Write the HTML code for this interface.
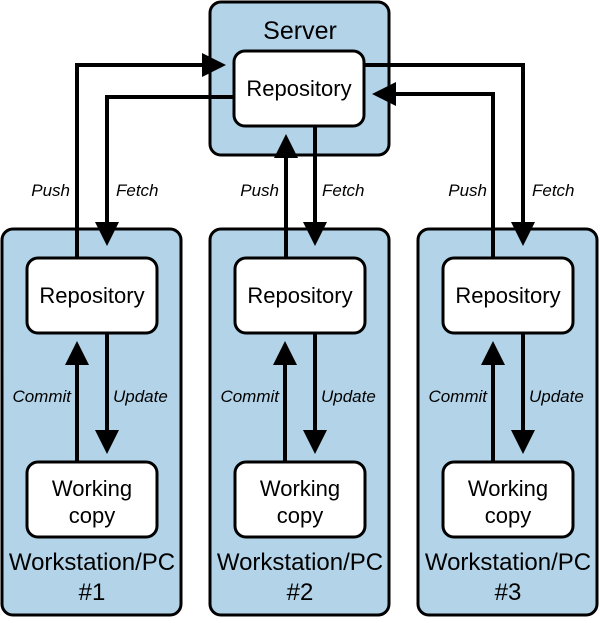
<!DOCTYPE html>
<html><head><style>body{margin:0;background:#fff}</style></head><body>
<svg width="600" height="618" viewBox="0 0 600 618" xmlns="http://www.w3.org/2000/svg" font-family="Liberation Sans, sans-serif">
<defs>
<marker id="a" markerWidth="6" markerHeight="6" refX="5" refY="3" orient="auto" markerUnits="strokeWidth">
<path d="M0,0 L6,3 L0,6 Z" fill="#000"/></marker>
</defs>
<g fill="#b3d4e8" stroke="#000" stroke-width="3">
<rect x="210" y="2" width="179" height="153" rx="11"/>
<rect x="2" y="229" width="179" height="386" rx="11"/>
<rect x="210" y="229" width="179" height="386" rx="11"/>
<rect x="418" y="229" width="179" height="386" rx="11"/>
</g>
<g fill="none" stroke="#000" stroke-width="4">
<path d="M77,258 V65 H222" marker-end="url(#a)"/>
<path d="M234,97 H107 V242" marker-end="url(#a)"/>
<path d="M364,65 H523 V242" marker-end="url(#a)"/>
<path d="M493,258 V94 H376" marker-end="url(#a)"/>
<path d="M286,258 V138" marker-end="url(#a)"/>
<path d="M315,126 V242" marker-end="url(#a)"/>
<path d="M77,462 V345" marker-end="url(#a)"/>
<path d="M107,333 V450" marker-end="url(#a)"/>
<path d="M285,462 V345" marker-end="url(#a)"/>
<path d="M315,333 V450" marker-end="url(#a)"/>
<path d="M493,462 V345" marker-end="url(#a)"/>
<path d="M523,333 V450" marker-end="url(#a)"/>
</g>
<g fill="#fff" stroke="#000" stroke-width="3">
<rect x="234" y="51" width="130" height="75" rx="11"/>
<rect x="27" y="258" width="130" height="75" rx="11"/>
<rect x="235" y="258" width="130" height="75" rx="11"/>
<rect x="443" y="258" width="130" height="75" rx="11"/>
<rect x="27" y="462" width="130" height="75" rx="11"/>
<rect x="235" y="462" width="130" height="75" rx="11"/>
<rect x="443" y="462" width="130" height="75" rx="11"/>
</g>
<g font-size="22" text-anchor="middle" fill="#000">
<text x="300" y="39" font-size="25">Server</text>
<text x="299" y="96">Repository</text>
<text x="92" y="303">Repository</text>
<text x="300" y="303">Repository</text>
<text x="508" y="303">Repository</text>
<text x="92" y="496">Working</text><text x="92" y="523">copy</text>
<text x="300" y="496">Working</text><text x="300" y="523">copy</text>
<text x="508" y="496">Working</text><text x="508" y="523">copy</text>
<g font-size="24">
<text x="92" y="570">Workstation/PC</text><text x="92" y="600">#1</text>
<text x="300" y="570">Workstation/PC</text><text x="300" y="600">#2</text>
<text x="508" y="570">Workstation/PC</text><text x="508" y="600">#3</text>
</g>
</g>
<g font-size="17" font-style="italic" fill="#000">
<text x="70" y="196" text-anchor="end">Push</text>
<text x="116" y="196">Fetch</text>
<text x="279" y="196" text-anchor="end">Push</text>
<text x="322" y="196">Fetch</text>
<text x="487" y="196" text-anchor="end">Push</text>
<text x="532" y="196">Fetch</text>
<text x="71" y="402" text-anchor="end">Commit</text>
<text x="113" y="402">Update</text>
<text x="279" y="402" text-anchor="end">Commit</text>
<text x="321" y="402">Update</text>
<text x="487" y="402" text-anchor="end">Commit</text>
<text x="529" y="402">Update</text>
</g>
</svg>
</body></html>
